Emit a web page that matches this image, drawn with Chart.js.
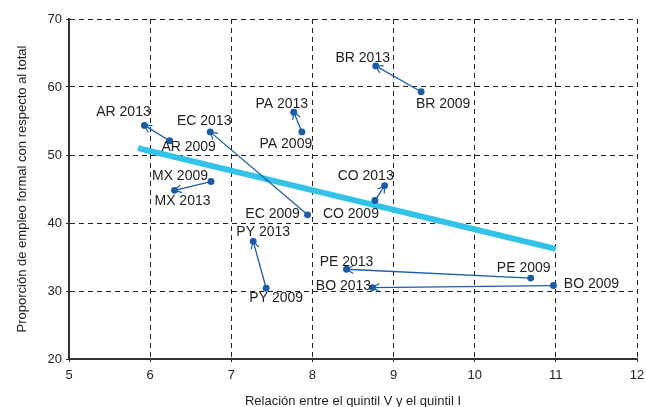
<!DOCTYPE html>
<html>
<head>
<meta charset="utf-8">
<script src="https://cdn.jsdelivr.net/npm/chart.js@4"></script>
<style>
  html, body { margin: 0; padding: 0; background: #fff; }
  #wrap { width: 646px; height: 407px; }
</style>
</head>
<body>
<div id="wrap"><canvas id="formalChart" width="646" height="407"></canvas></div>
<script>
const countries = ['AR', 'BR', 'CO', 'EC', 'MX', 'PA', 'PE', 'PY', 'BO'];
const x2009 = [6.24, 9.34, 8.77, 7.94, 6.75, 7.87, 10.69, 7.43, 10.97];
const y2009 = [52.1, 59.3, 43.3, 41.2, 46.1, 53.4, 31.9, 30.4, 30.8];
const x2013 = [5.93, 8.78, 8.89, 6.74, 6.30, 7.77, 8.42, 7.27, 8.74];
const y2013 = [54.35, 63.1, 45.5, 53.4, 44.8, 56.3, 33.2, 37.3, 30.5];
const trendX = [5.85, 11];
const trendY = [51.0, 36.2];
const xTicks = [5, 6, 7, 8, 9, 10, 11, 12];
const yTicks = [20, 30, 40, 50, 60, 70];

// label offsets in px from the point (layout only)
const offs2009 = {
  AR: [19, 6], BR: [22, 12], CO: [-24, 14], EC: [-35, -1], MX: [-31, -5],
  PA: [-16, 12], PE: [-7, -10], PY: [10, 10], BO: [38, -1]
};
const offs2013 = {
  AR: [-21, -13], BR: [-13, -8], CO: [-19, -9], EC: [-6, -11], MX: [8, 11],
  PA: [-12, -8], PE: [0, -7], PY: [10, -9], BO: [-29, -1]
};

const font = "'Liberation Sans', Arial, sans-serif";
const arrowBlue = '#1a5ca6';

const datasets = countries.map((c, i) => ({
  label: c,
  data: [{x: x2009[i], y: y2009[i]}, {x: x2013[i], y: y2013[i]}],
  showLine: true,
  borderColor: arrowBlue,
  backgroundColor: arrowBlue,
  borderWidth: 1.3,
  pointRadius: 2.8,
  pointHoverRadius: 2.8
}));
datasets.push({
  label: 'Tendencia',
  data: trendX.map((x, i) => ({x: x, y: trendY[i]})),
  showLine: true,
  borderColor: '#33c3e8',
  borderWidth: 6,
  pointRadius: 0,
  borderCapStyle: 'butt'
});

const arrowLabels = {
  id: 'arrowLabels',
  afterDatasetsDraw(chart) {
    const ctx = chart.ctx;
    const xs = chart.scales.x, ys = chart.scales.y;
    ctx.save();
    countries.forEach((c, i) => {
      const ax = xs.getPixelForValue(x2009[i]), ay = ys.getPixelForValue(y2009[i]);
      const bx = xs.getPixelForValue(x2013[i]), by = ys.getPixelForValue(y2013[i]);
      const ang = Math.atan2(by - ay, bx - ax);
      const len = 8, spread = Math.PI / 6;
      ctx.strokeStyle = arrowBlue;
      ctx.lineWidth = 1.2;
      ctx.beginPath();
      ctx.moveTo(bx - len * Math.cos(ang - spread), by - len * Math.sin(ang - spread));
      ctx.lineTo(bx, by);
      ctx.lineTo(bx - len * Math.cos(ang + spread), by - len * Math.sin(ang + spread));
      ctx.stroke();

      ctx.fillStyle = '#1e1e1e';
      ctx.font = '14px ' + font;
      ctx.textAlign = 'center';
      ctx.textBaseline = 'middle';
      ctx.fillText(c + ' 2009', ax + offs2009[c][0], ay + offs2009[c][1]);
      ctx.fillText(c + ' 2013', bx + offs2013[c][0], by + offs2013[c][1]);
    });
    ctx.restore();
  }
};

const ctxFormal = document.getElementById('formalChart').getContext('2d');
const formalChart = new Chart(ctxFormal, {
  type: 'scatter',
  data: { datasets: datasets },
  plugins: [arrowLabels],
  options: {
    responsive: false,
    animation: false,
    layout: { padding: { left: 0, right: 9, top: 19, bottom: 0 } },
    scales: {
      x: {
        type: 'linear',
        min: 5,
        max: 12,
        afterBuildTicks: (axis) => { axis.ticks = xTicks.map(v => ({value: v})); },
        afterFit: (axis) => { axis.height = 48; axis.paddingLeft = 0; axis.paddingRight = 0; },
        ticks: { color: '#1e1e1e', font: { family: font, size: 13 }, padding: 6 },
        grid: { color: '#222', lineWidth: 1, tickLength: 3, tickColor: '#222' },
        border: { display: true, color: '#333', width: 2, dash: [5, 4] },
        title: {
          display: true,
          text: 'Relación entre el quintil V y el quintil I',
          color: '#1e1e1e',
          font: { family: font, size: 13 },
          padding: { top: 4, bottom: -2 }
        }
      },
      y: {
        type: 'linear',
        min: 20,
        max: 70,
        afterBuildTicks: (axis) => { axis.ticks = yTicks.map(v => ({value: v})); },
        afterFit: (axis) => { axis.width = 69; axis.paddingTop = 0; axis.paddingBottom = 0; },
        ticks: { color: '#1e1e1e', font: { family: font, size: 13 }, padding: 4 },
        grid: { color: '#222', lineWidth: 1, tickLength: 3, tickColor: '#222' },
        border: { display: true, color: '#333', width: 2, dash: [5, 4] },
        title: {
          display: true,
          text: 'Proporción de empleo formal con respecto al total',
          color: '#1e1e1e',
          font: { family: font, size: 13 },
          padding: { top: 15, bottom: 0 }
        }
      }
    },
    plugins: {
      legend: { display: false },
      tooltip: { enabled: false }
    }
  }
});
</script>
</body>
</html>
